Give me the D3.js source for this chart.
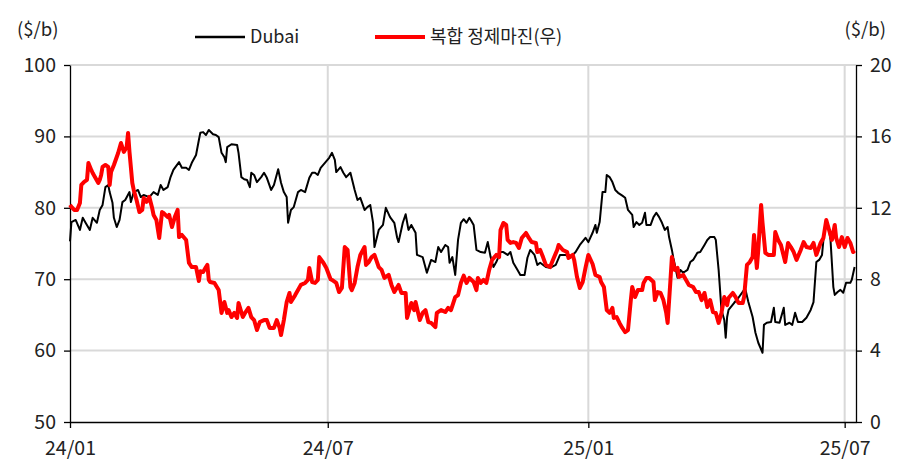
<!DOCTYPE html>
<html>
<head>
<meta charset="utf-8">
<script src="https://cdn.jsdelivr.net/npm/d3@7"></script>
<style>
  body { margin: 0; background: #fff; }
  svg text { font-family: "Noto Sans CJK KR", "Noto Sans", sans-serif; fill: #222; }
</style>
</head>
<body>
<svg width="915" height="469"></svg>
<script>
// data: day offsets from startDate
const startDate = new Date(2024, 0, 1);
const endDate   = new Date(2025, 6, 9);

const seriesNames = ["Dubai", "복합 정제마진(우)"];
const unitLabel   = "($/b)";

const leftTicks  = [50, 60, 70, 80, 90, 100];
const rightTicks = [0, 4, 8, 12, 16, 20];
const xTicks     = [new Date(2024, 0, 1), new Date(2024, 6, 1), new Date(2025, 0, 1), new Date(2025, 6, 1)];

const dubai = [
  [0,75.3],[1,78.0],[4,78.3],[7,76.9],[9,78.6],[11,77.9],[14,76.9],[16,78.6],[19,77.9],[21,79.7],
  [23,80.4],[25,82.9],[27,83.2],[28,82.2],[30,80.7],[31,78.6],[33,77.3],[35,78.3],[37,80.8],[39,81.1],
  [42,82.2],[43,80.8],[45,82.2],[48,82.5],[50,81.5],[52,81.8],[56,81.5],[59,82.2],[62,81.8],[64,83.2],
  [66,82.5],[69,82.9],[71,84.3],[73,85.3],[77,86.4],[79,85.6],[82,85.6],[84,85.3],[86,86.3],[89,87.4],
  [91,89.5],[92,90.5],[94,90.6],[96,90.2],[98,90.9],[101,90.3],[103,90.2],[105,89.9],[107,87.7],[109,87.1],
  [110,86.4],[111,88.5],[114,88.9],[118,88.8],[119,87.7],[121,84.3],[123,84.0],[125,83.9],[127,82.9],[128,84.9],
  [130,84.6],[132,83.6],[135,84.3],[137,84.9],[139,84.2],[142,82.5],[144,83.2],[147,85.4],[149,83.5],[151,82.2],
  [153,81.5],[154,77.9],[156,79.7],[158,80.1],[161,82.2],[163,82.5],[166,82.2],[169,84.2],[171,84.9],[173,84.9],
  [175,84.6],[177,85.6],[180,86.3],[183,87.0],[185,87.7],[187,86.7],[188,85.0],[191,85.7],[193,84.9],[195,84.3],
  [198,84.9],[201,82.5],[203,81.1],[205,81.4],[208,79.7],[210,80.1],[212,80.4],[214,77.9],[215,74.5],[218,76.9],
  [221,77.6],[223,80.0],[226,78.7],[229,77.9],[231,75.8],[232,75.2],[235,77.9],[237,79.1],[239,76.9],[241,77.6],
  [244,76.5],[245,73.4],[249,73.1],[252,70.9],[255,72.7],[258,72.4],[260,74.5],[262,73.8],[265,74.8],[267,74.5],
  [268,72.3],[270,73.1],[272,70.6],[274,75.5],[276,77.9],[278,78.4],[280,77.9],[282,78.6],[283,78.3],[285,77.6],
  [287,74.1],[290,73.8],[293,73.7],[295,75.2],[297,73.1],[299,71.7],[301,72.4],[304,73.8],[306,73.8],[309,73.4],
  [311,73.8],[313,72.3],[316,71.3],[318,70.6],[321,70.6],[323,73.0],[325,74.1],[328,73.4],[330,72.0],[332,72.3],
  [336,71.7],[339,71.6],[343,72.0],[346,73.4],[350,73.4],[353,73.0],[357,73.8],[360,74.8],[364,75.8],[366,75.2],
  [369,76.5],[371,77.6],[372,76.5],[374,78.0],[376,82.2],[378,82.2],[379,84.6],[381,84.3],[383,83.6],[385,82.5],
  [387,82.1],[390,81.7],[392,81.4],[394,79.7],[397,79.0],[398,77.3],[400,78.0],[402,77.6],[404,77.9],[406,79.3],
  [407,77.6],[410,77.6],[412,78.7],[414,79.3],[416,78.7],[418,77.9],[420,76.9],[422,77.3],[423,75.9],[425,74.1],
  [426,73.0],[429,70.2],[431,71.3],[433,70.9],[436,71.3],[438,72.4],[440,72.7],[443,73.7],[445,73.8],[448,74.8],
  [450,75.5],[452,75.9],[455,75.9],[456,75.5],[458,71.3],[460,65.7],[462,64.3],[463,61.8],[464,64.7],[465,65.7],
  [469,66.7],[472,67.4],[476,68.5],[477,68.5],[479,66.8],[482,64.7],[484,62.5],[486,61.1],[489,59.7],[490,63.6],
  [492,63.9],[495,64.0],[497,66.0],[498,64.0],[501,63.9],[504,66.0],[505,63.6],[508,63.9],[510,63.6],[512,65.3],
  [514,64.0],[517,64.0],[520,64.6],[523,65.7],[525,66.8],[527,72.4],[529,72.7],[531,73.4],[532,75.5],[534,78.3],
  [536,76.9],[537,75.5],[539,68.9],[540,67.8],[542,68.2],[544,68.5],[546,68.1],[548,69.5],[551,69.5],[552,69.9],
  [554,71.7]
];

const margin = [
  [0,12.16],[1,12.05],[3,11.88],[5,11.88],[7,12.27],[8,13.28],[10,13.45],[12,13.56],[13,14.51],[15,14.12],
  [16,13.95],[18,13.67],[20,13.39],[21,13.56],[22,13.84],[23,14.29],[25,14.40],[27,14.29],[28,13.28],[29,14.01],
  [31,14.40],[34,15.07],[36,15.63],[38,15.13],[40,15.41],[41,16.19],[42,15.13],[44,13.39],[45,13.0],[47,12.44],
  [49,11.76],[51,11.88],[52,12.55],[54,12.33],[56,12.61],[58,11.99],[59,11.60],[61,11.32],[63,10.31],[65,11.76],
  [66,11.71],[69,11.48],[70,11.60],[72,10.92],[74,11.48],[76,11.88],[77,10.36],[79,10.48],[82,10.20],[84,8.91],
  [86,8.68],[89,8.68],[91,7.9],[92,8.45],[94,8.40],[96,8.68],[97,8.80],[98,7.96],[99,7.84],[102,7.79],
  [105,7.39],[107,6.11],[109,6.72],[111,6.11],[112,6.27],[114,5.88],[116,6.11],[118,5.83],[119,6.67],[122,5.88],
  [124,6.16],[126,6.39],[128,5.88],[130,5.71],[132,5.15],[134,5.60],[137,5.71],[139,5.71],[141,5.27],[144,5.27],
  [146,5.71],[148,5.27],[149,4.87],[151,5.71],[153,6.72],[155,7.23],[156,6.72],[159,7.11],[161,7.39],[163,7.68],
  [166,7.79],[168,7.96],[169,8.63],[171,7.84],[173,7.79],[175,7.96],[176,9.24],[179,8.91],[181,8.63],[184,8.0],
  [185,7.96],[188,7.79],[190,7.28],[192,7.51],[194,9.80],[196,9.64],[198,7.56],[199,7.39],[201,7.79],[203,8.68],
  [205,9.36],[208,9.80],[209,8.80],[211,8.96],[213,9.24],[215,9.36],[218,8.68],[220,8.52],[222,8.07],[225,8.24],
  [227,7.68],[229,7.28],[232,7.68],[234,7.23],[237,7.23],[238,5.83],[241,6.67],[243,6.27],[244,6.72],[247,5.71],
  [249,6.11],[251,6.27],[253,5.60],[255,5.55],[258,5.32],[259,6.11],[262,6.27],[265,6.16],[267,6.39],[269,6.27],
  [272,7.0],[274,7.11],[276,7.79],[278,8.2],[280,7.79],[282,8.07],[285,7.84],[287,7.39],[288,8.07],[290,7.79],
  [292,7.96],[294,7.79],[296,8.52],[298,9.08],[301,9.36],[303,9.24],[304,10.76],[306,11.15],[308,11.04],[309,10.20],
  [311,10.03],[313,10.08],[315,10.03],[317,9.75],[319,10.31],[322,10.59],[324,10.31],[326,10.08],[329,10.03],[330,9.52],
  [332,9.64],[334,9.24],[336,8.80],[339,8.68],[341,9.08],[344,9.64],[345,9.92],[348,9.64],[351,9.52],[352,9.19],
  [355,9.36],[356,9.08],[358,8.12],[360,7.51],[362,7.84],[364,8.63],[366,9.36],[369,8.85],[371,8.24],[374,8.12],
  [375,7.84],[377,7.56],[379,6.27],[381,6.11],[383,6.39],[384,5.83],[386,5.88],[388,5.55],[390,5.27],[392,5.04],
  [394,5.15],[396,6.83],[397,7.56],[399,7.0],[401,7.39],[404,7.39],[405,7.79],[407,8.07],[409,8.07],[412,7.84],
  [413,6.83],[415,7.28],[417,7.23],[419,6.83],[421,6.11],[422,5.55],[424,7.96],[425,9.24],[427,8.52],[429,8.63],
  [430,8.12],[433,8.24],[435,7.96],[437,7.68],[440,7.56],[442,7.28],[444,7.28],[446,6.83],[448,7.23],[450,6.44],
  [452,6.83],[454,6.16],[456,6.11],[458,5.55],[460,6.11],[462,7.0],[464,6.55],[465,6.95],[468,7.23],[470,7.0],
  [472,6.67],[475,6.67],[476,7.0],[478,8.80],[480,8.96],[482,9.24],[483,10.48],[485,8.63],[486,9.64],[488,12.16],
  [489,11.15],[491,9.47],[493,9.36],[497,9.36],[498,10.64],[500,10.20],[502,9.92],[505,8.96],[507,10.03],[509,9.80],
  [511,9.52],[513,9.08],[516,9.64],[518,10.08],[520,9.80],[523,9.75],[525,10.03],[527,9.36],[530,10.03],[532,10.31],
  [534,11.32],[536,10.76],[538,10.20],[540,11.04],[541,10.31],[543,9.80],[545,10.36],[547,9.80],[549,10.31],[551,10.03],
  [553,9.52],[554,9.6]
];

const svg = d3.select("svg");
const plotL = 70, plotR = 856, plotT = 65, plotB = 422;

const x  = d3.scaleTime().domain([startDate, endDate]).range([plotL, plotR]);
const yL = d3.scaleLinear().domain([50, 100]).range([plotB, plotT]);
const yR = d3.scaleLinear().domain([0, 20]).range([plotB, plotT]);

const toPoint = d => ({ date: d3.timeDay.offset(startDate, d[0]), v: d[1] });

// grid
svg.append("g")
  .selectAll("line")
  .data(leftTicks.slice(1))
  .join("line")
  .attr("x1", plotL).attr("x2", plotR)
  .attr("y1", d => yL(d)).attr("y2", d => yL(d))
  .attr("stroke", "#d9d9d9").attr("stroke-width", 2);

svg.append("g")
  .selectAll("line")
  .data(xTicks.slice(1))
  .join("line")
  .attr("x1", d => x(d)).attr("x2", d => x(d))
  .attr("y1", plotT).attr("y2", plotB)
  .attr("stroke", "#d9d9d9").attr("stroke-width", 2);

// axes
function styleAxis(g) {
  g.select(".domain").attr("stroke", "#000").attr("stroke-width", 1.3);
  g.selectAll(".tick line").attr("stroke", "#000").attr("stroke-width", 1.3);
  g.selectAll(".tick text").attr("font-size", 19.5).attr("fill", "#222");
}

svg.append("g")
  .attr("transform", `translate(${plotL},0)`)
  .call(d3.axisLeft(yL).tickValues(leftTicks).tickSize(6).tickSizeOuter(0).tickPadding(8))
  .call(styleAxis);

svg.append("g")
  .attr("transform", `translate(${plotR},0)`)
  .call(d3.axisRight(yR).tickValues(rightTicks).tickSize(6).tickSizeOuter(0).tickPadding(8))
  .call(styleAxis);

svg.append("g")
  .attr("transform", `translate(0,${plotB})`)
  .call(d3.axisBottom(x).tickValues(xTicks).tickFormat(d3.timeFormat("%y/%m")).tickSize(6).tickSizeOuter(0).tickPadding(13))
  .call(styleAxis);

// lines
const lineL = d3.line().x(d => x(d.date)).y(d => yL(d.v));
const lineR = d3.line().x(d => x(d.date)).y(d => yR(d.v));

svg.append("path")
  .attr("d", lineL(dubai.map(toPoint)))
  .attr("fill", "none").attr("stroke", "#000").attr("stroke-width", 2)
  .attr("stroke-linejoin", "round");

svg.append("path")
  .attr("d", lineR(margin.map(toPoint)))
  .attr("fill", "none").attr("stroke", "#ff0000").attr("stroke-width", 4)
  .attr("stroke-linejoin", "round");

// units
svg.append("text").attr("x", 17).attr("y", 36).attr("font-size", 18.5).text(unitLabel);
svg.append("text").attr("x", 886).attr("y", 36).attr("font-size", 18.5).attr("text-anchor", "end").text(unitLabel);

// legend
const legend = [
  { name: seriesNames[0], color: "#000", width: 2.5, x: 195 },
  { name: seriesNames[1], color: "#ff0000", width: 4, x: 375 }
];
const lg = svg.append("g").selectAll("g").data(legend).join("g")
  .attr("transform", d => `translate(${d.x},37)`);
lg.append("line").attr("x1", 0).attr("x2", 50)
  .attr("stroke", d => d.color).attr("stroke-width", d => d.width);
lg.append("text").attr("x", 55).attr("dy", "0.35em").attr("font-size", 18).text(d => d.name);
</script>
</body>
</html>
